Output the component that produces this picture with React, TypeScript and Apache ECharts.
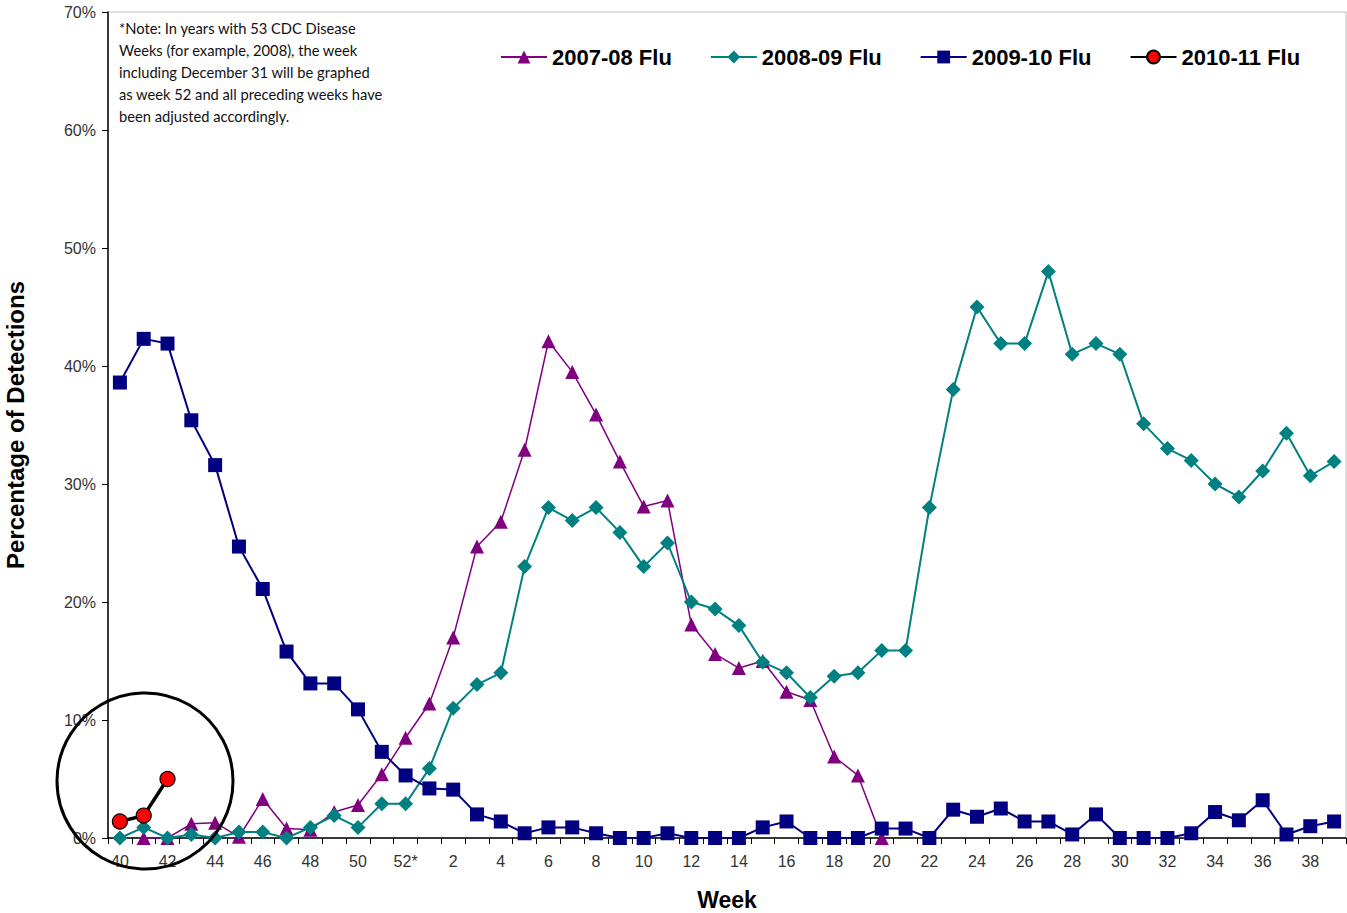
import React, { useEffect, useRef } from "react";
import * as echarts from "echarts";

const weeks: string[] = [
  "40","41","42","43","44","45","46","47","48","49","50","51","52*",
  "1","2","3","4","5","6","7","8","9","10","11","12","13","14","15","16","17","18","19","20",
  "21","22","23","24","25","26","27","28","29","30","31","32","33","34","35","36","37","38","39",
];

const flu0708: (number | null)[] = [
  null, 0, 0, 1.2, 1.3, 0.1, 3.3, 0.8, 0.7, 2.2, 2.8, 5.4, 8.5,
  11.4, 17.0, 24.7, 26.8, 32.9, 42.1, 39.5, 35.9, 31.9, 28.1, 28.6, 18.1, 15.6, 14.4, 15.0, 12.4, 11.7, 6.9, 5.3, 0,
  null, null, null, null, null, null, null, null, null, null, null, null, null, null, null, null, null, null, null,
];

const flu0809: (number | null)[] = [
  0, 0.9, 0, 0.3, 0, 0.5, 0.5, 0, 0.9, 1.9, 0.9, 2.9, 2.9,
  5.9, 11.0, 13.0, 14.0, 23.0, 28.0, 26.9, 28.0, 25.9, 23.0, 25.0, 20.0, 19.4, 18.0, 14.9, 14.0, 11.9, 13.7, 14.0, 15.9,
  15.9, 28.0, 38.0, 45.0, 41.9, 41.9, 48.0, 41.0, 41.9, 41.0, 35.1, 33.0, 32.0, 30.0, 28.9, 31.1, 34.3, 30.7, 31.9,
];

const flu0910: (number | null)[] = [
  38.6, 42.3, 41.9, 35.4, 31.6, 24.7, 21.1, 15.8, 13.1, 13.1, 10.9, 7.3, 5.3,
  4.2, 4.1, 2.0, 1.4, 0.4, 0.9, 0.9, 0.4, 0, 0, 0.4, 0, 0, 0, 0.9, 1.4, 0, 0, 0, 0.8,
  0.8, 0, 2.4, 1.8, 2.5, 1.4, 1.4, 0.3, 2.0, 0, 0, 0, 0.4, 2.2, 1.5, 3.2, 0.3, 1.0, 1.4,
];

const flu1011: (number | null)[] = [1.4, 1.9, 5.0];

const yTicks: number[] = [0, 10, 20, 30, 40, 50, 60, 70];

const noteLines: string[] = [
  "*Note: In years with 53 CDC Disease",
  "Weeks (for example, 2008), the week",
  "including December 31 will be graphed",
  "as week 52 and all preceding weeks have",
  "been adjusted accordingly.",
];

export default function App() {
  const ref = useRef<HTMLDivElement>(null);
  useEffect(() => {
    if (!ref.current) return;
    const chart = echarts.init(ref.current, null, { renderer: "svg" });
    const option: any = {
      animation: false,
      backgroundColor: "#ffffff",
      textStyle: { fontFamily: "Liberation Sans, Arial, sans-serif" },
      grid: {
        left: 108,
        top: 12,
        right: 1,
        bottom: 75,
        containLabel: false,
        outerBoundsMode: "none",
        show: true,
        borderColor: "#bdbdbd",
        borderWidth: 1,
      },
      legend: {
        left: 495,
        top: 41,
        itemWidth: 46,
        itemHeight: 16,
        itemGap: 38,
        textStyle: {
          fontFamily: "Liberation Sans, Arial, sans-serif",
          fontWeight: "bold",
          fontSize: 22,
          color: "#000000",
        },
        data: ["2007-08 Flu", "2008-09 Flu", "2009-10 Flu", "2010-11 Flu"],
      },
      xAxis: {
        type: "category",
        data: weeks,
        boundaryGap: true,
        name: "Week",
        nameLocation: "middle",
        nameGap: 50,
        nameTextStyle: {
          fontFamily: "Liberation Sans, Arial, sans-serif",
          fontWeight: "bold",
          fontSize: 23,
          color: "#000000",
        },
        axisLine: { show: true, lineStyle: { color: "#000000", width: 1.5 } },
        axisTick: { show: true, interval: 0, alignWithLabel: false, length: 6, lineStyle: { color: "#000000" } },
        axisLabel: {
          interval: 1,
          fontSize: 16,
          color: "#333333",
          margin: 15,
        },
        splitLine: { show: false },
      },
      yAxis: {
        type: "value",
        min: yTicks[0],
        max: yTicks[yTicks.length - 1],
        interval: 10,
        name: "Percentage of Detections",
        nameLocation: "middle",
        nameGap: 81,
        nameTextStyle: {
          fontFamily: "Liberation Sans, Arial, sans-serif",
          fontWeight: "bold",
          fontSize: 24,
          color: "#000000",
        },
        axisLine: { show: true, lineStyle: { color: "#000000", width: 1.5 } },
        axisTick: { show: true, length: 6, lineStyle: { color: "#000000" } },
        axisLabel: {
          fontSize: 16,
          color: "#333333",
          margin: 12,
          formatter: (v: number) => v + "%",
        },
        splitLine: { show: false },
      },
      graphic: [
        {
          type: "group",
          left: 119,
          top: 20,
          children: noteLines.map((t, i) => ({
            type: "text",
            x: 0,
            y: i * 22,
            style: {
              text: t,
              fontFamily: "Lato, Open Sans, sans-serif",
              fontSize: 14.7,
              fill: "#111111",
            },
          })),
        },
        {
          type: "circle",
          shape: { cx: 145, cy: 781, r: 88 },
          style: { fill: "none", stroke: "#000000", lineWidth: 3 },
          z: 100,
        },
      ],
      series: [
        {
          name: "2007-08 Flu",
          type: "line",
          data: flu0708,
          symbol: "triangle",
          symbolSize: 14,
          showAllSymbol: true,
          connectNulls: false,
          lineStyle: { color: "#800080", width: 1.5 },
          itemStyle: { color: "#800080" },
          z: 2,
        },
        {
          name: "2008-09 Flu",
          type: "line",
          data: flu0809,
          symbol: "diamond",
          symbolSize: 15,
          showAllSymbol: true,
          lineStyle: { color: "#008080", width: 2 },
          itemStyle: { color: "#008080" },
          z: 3,
        },
        {
          name: "2009-10 Flu",
          type: "line",
          data: flu0910,
          symbol: "rect",
          symbolSize: 14,
          showAllSymbol: true,
          lineStyle: { color: "#000080", width: 2 },
          itemStyle: { color: "#000080" },
          z: 4,
        },
        {
          name: "2010-11 Flu",
          type: "line",
          data: flu1011,
          symbol: "circle",
          symbolSize: 15,
          showAllSymbol: true,
          lineStyle: { color: "#000000", width: 3.5 },
          itemStyle: { color: "#ff0000", borderColor: "#000000", borderWidth: 1.2 },
          z: 5,
        },
      ],
    };
    chart.setOption(option);
    return () => chart.dispose();
  }, []);
  return (
    <div
      ref={ref}
      style={{ position: "fixed", left: 0, top: 0, width: "1347px", height: "913px", background: "#fff" }}
    />
  );
}
